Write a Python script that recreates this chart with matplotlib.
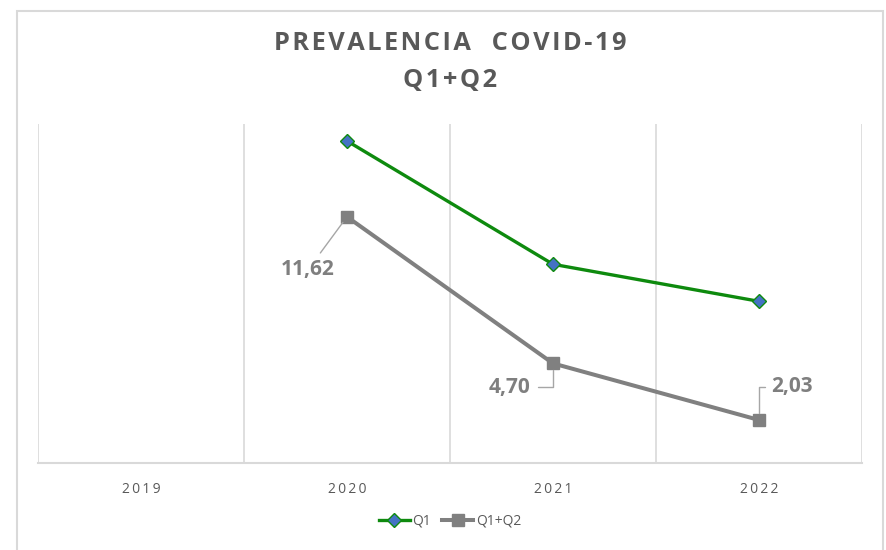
import matplotlib.pyplot as plt
from matplotlib.patches import Rectangle

# Datos (data)
years = ["2019", "2020", "2021", "2022"]
q1 = [None, 15.2, 9.38, 7.63]
q1q2 = [None, 11.62, 4.70, 2.03]
q1q2_labels = ["", "11,62", "4,70", "2,03"]

gris = "#595959"
borde = "#D9D9D9"

fig = plt.figure(figsize=(8.86, 5.5), dpi=100)
ax = fig.add_axes([38 / 886, 87 / 550, 824 / 886, 339 / 550])

# Marco exterior del grafico (outer chart border)
fig.patches.append(Rectangle((17 / 886, -0.02), 866 / 886, 1.01 - 5 / 550,
                             transform=fig.transFigure, fill=False,
                             edgecolor=borde, linewidth=1.5))

x = list(range(len(years)))
xs1 = [i for i, v in zip(x, q1) if v is not None]
ys1 = [v for v in q1 if v is not None]
xs2 = [i for i, v in zip(x, q1q2) if v is not None]
ys2 = [v for v in q1q2 if v is not None]

ax.plot(xs1, ys1, color="#0E8A0E", linewidth=2.4, marker="D", markersize=7,
        markerfacecolor="#4472C4", markeredgecolor="#0E8A0E", markeredgewidth=1,
        label="Q1", zorder=3)
ax.plot(xs2, ys2, color="#808080", linewidth=2.9, marker="s", markersize=9,
        markerfacecolor="#808080", markeredgecolor="#808080",
        label="Q1+Q2", zorder=3)

# Etiquetas con lineas guia (labels with leader lines)
offsets = {1: (-28, -38, "arc3"), 2: (-31, -17, "angle,angleA=0,angleB=90,rad=0"),
           3: (24, 24, "angle,angleA=180,angleB=90,rad=0")}
for i, v in zip(x, q1q2):
    if v is None:
        continue
    dx, dy, cs = offsets[i]
    ax.annotate(q1q2_labels[i], (i, v), xytext=(dx, dy), textcoords="offset points",
                ha="center", va="center", fontsize=15, fontweight="bold",
                color="#7F7F7F", family="Open Sans",
                arrowprops=dict(arrowstyle="-", color="#A6A6A6", lw=1,
                                connectionstyle=cs, shrinkA=3, shrinkB=5))

ax.set_xlim(-0.5, 3.5)
ax.set_ylim(0, 16)
ax.set_xticks(x)
ax.set_xticklabels(["\u2009".join(y) for y in years], family=["Open Sans", "DejaVu Sans"],
                   fontsize=10, color=gris)
ax.set_yticks([])
ax.tick_params(axis="x", which="both", length=0, pad=14)
ax.set_xticks([-0.5, 0.5, 1.5, 2.5, 3.5], minor=True)
ax.grid(True, axis="x", which="minor", color=borde, linewidth=1.2)
for s in ["top", "right", "left"]:
    ax.spines[s].set_visible(False)
ax.spines["bottom"].set_color(borde)
ax.spines["bottom"].set_linewidth(1.5)

# Titulo con espaciado entre letras (title with letter spacing)
fig.text(0.508, 0.921, "\u200a".join("PREVALENCIA  COVID-19"), ha="center", va="center",
         fontsize=18.3, fontweight="bold", color=gris, family=["Open Sans", "DejaVu Sans"])
fig.text(0.508, 0.853, "\u200a".join("Q1+Q2"), ha="center", va="center",
         fontsize=18.3, fontweight="bold", color=gris, family=["Open Sans", "DejaVu Sans"])

fig.legend(loc="center", bbox_to_anchor=(450 / 886, 1 - 521 / 550), ncol=2,
           frameon=False, handlelength=2.2, columnspacing=0.8, handletextpad=0.2,
           prop={"family": "Open Sans", "size": 10}, labelcolor=gris)

fig.savefig("out.png", dpi=100)
